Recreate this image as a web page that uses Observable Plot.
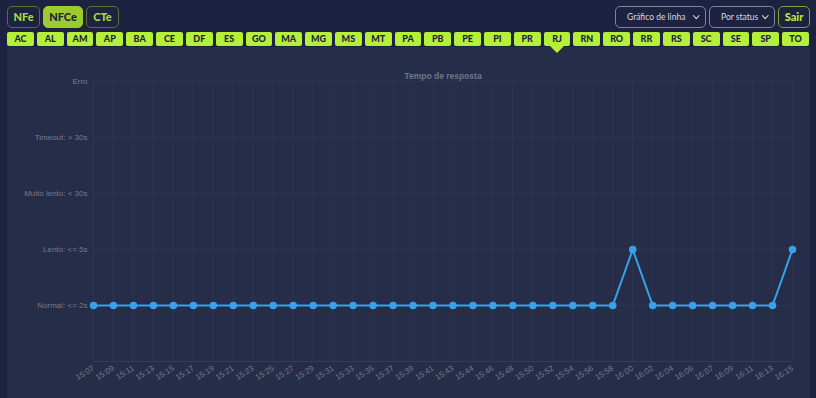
<!DOCTYPE html>
<html><head><meta charset="utf-8">
<script src="https://cdn.jsdelivr.net/npm/d3@7"></script>
<script src="https://cdn.jsdelivr.net/npm/@observablehq/plot@0.6"></script>
<style>
html,body{margin:0;padding:0;background:#1e2241;width:816px;height:398px;overflow:hidden;font-family:Lato,"Open Sans",sans-serif;}
#topbar{position:absolute;left:7px;top:6px;display:flex;gap:3px;}
.doc{height:20px;border:1px solid #5d7030;border-radius:5px;color:#a9d93c;font-weight:900;font-size:11px;line-height:20px;text-align:center;box-sizing:content-box;}
.doc.on{background:#9ccb2d;border-color:#9ccb2d;color:#1e2241;}
#right{position:absolute;left:615px;top:6px;display:flex;gap:3px;}
.sel{height:20px;border:1px solid #80859a;border-radius:5px;color:#d8dae2;font-size:8.5px;line-height:20px;padding:0 0 0 11px;position:relative;box-sizing:content-box;}
.sel span.ch{position:absolute;right:7px;top:6px;width:3.5px;height:3.5px;border-right:1.5px solid #e8e8ee;border-bottom:1.5px solid #e8e8ee;transform:rotate(45deg);}
.sair{height:20px;width:30px;text-align:center;border:1px solid #7da22e;border-radius:5px;color:#b6ea3c;font-weight:900;font-size:11px;line-height:20px;box-sizing:content-box;}
#states{position:absolute;left:7px;top:32px;width:802px;display:flex;gap:3px;z-index:2;}
.st{flex:1;height:14px;background:#b4ef3a;border-radius:2px;color:#1e2241;font-weight:900;font-size:9px;line-height:14px;text-align:center;position:relative;}
.st.on::after{content:"";position:absolute;left:50%;top:14px;margin-left:-7px;border-left:7px solid transparent;border-right:7px solid transparent;border-top:7px solid #b4ef3a;}
#panel{position:absolute;left:7px;top:47px;width:803px;height:351px;background:#262d48;z-index:1;}
</style></head>
<body>
<div id="topbar"></div>
<div id="right">
  <div class="sel" style="width:78px">Gráfico de linha<span class="ch"></span></div>
  <div class="sel" style="width:53px">Por status<span class="ch"></span></div>
  <div class="sair">Sair</div>
</div>
<div id="states"></div>
<div id="panel"></div>
<script>
const docTypes = ["NFe","NFCe","CTe"];
const activeDoc = "NFCe";
const states = ["AC","AL","AM","AP","BA","CE","DF","ES","GO","MA","MG","MS","MT","PA","PB","PE","PI","PR","RJ","RN","RO","RR","RS","SC","SE","SP","TO"];
const activeState = "RJ";
const chartTitle = "Tempo de resposta";
const levels = ["Erro","Timeout: > 30s","Muito lento: < 30s","Lento: <= 5s","Normal: <= 2s"];
const times = ["15:07","15:09","15:11","15:13","15:15","15:17","15:19","15:21","15:23","15:25","15:27","15:29","15:31","15:33","15:35","15:37","15:39","15:41","15:43","15:44","15:46","15:48","15:50","15:52","15:54","15:56","15:58","16:00","16:02","16:04","16:06","16:07","16:09","16:11","16:13","16:15"];
const N = "Normal: <= 2s", L = "Lento: <= 5s";
const statuses = [N,N,N,N,N,N,N,N,N,N,N,N,N,N,N,N,N,N,N,N,N,N,N,N,N,N,N,L,N,N,N,N,N,N,N,L];

const topbar = document.getElementById("topbar");
const docWidths = {NFe: 31, NFCe: 38, CTe: 31};
docTypes.forEach(d=>{const e=document.createElement("div");e.className="doc"+(d===activeDoc?" on":"");e.style.width=docWidths[d]+"px";e.textContent=d;topbar.appendChild(e);});
const stRow = document.getElementById("states");
states.forEach(s=>{const e=document.createElement("div");e.className="st"+(s===activeState?" on":"");e.textContent=s;stRow.appendChild(e);});

const data = times.map((t,i)=>({t, s: statuses[i]}));
const yDomain = [...levels, " "];
const grid = "rgba(255,255,255,0.035)";
const lbl = "#767c8f";
const chart = Plot.plot({
  width: 803, height: 351,
  marginTop: 34, marginBottom: 37, marginLeft: 86, marginRight: 18,
  style: {background: "transparent", fontFamily: "'Liberation Sans', Arial, sans-serif", fontSize: "8px", color: lbl},
  x: {type: "point", domain: times, padding: 0, label: null, axis: null},
  y: {type: "point", domain: yDomain, padding: 0, label: null},
  marks: [
    Plot.gridX(times, {stroke: grid, strokeOpacity: 1}),
    Plot.gridY(levels, {stroke: grid, strokeOpacity: 1}),
    Plot.ruleY([" "], {stroke: "rgba(255,255,255,0.07)"}),
    Plot.axisY(levels, {tickSize: 0, tickPadding: 6, fill: lbl, fontSize: 8, label: null}),
    Plot.text(times, {x: d=>d, frameAnchor: "bottom", dy: 6, dx: 0, rotate: -32, textAnchor: "end", lineAnchor: "middle", fill: lbl, fontSize: 8}),
    Plot.line(data, {x: "t", y: "s", stroke: "#36a2eb", strokeWidth: 2}),
    Plot.dot(data, {x: "t", y: "s", r: 3, fill: "#36a2eb", stroke: "#36a2eb"}),
    Plot.text([chartTitle], {text: d=>d, frameAnchor: "top", dy: -9, fill: "#6f7587", fontWeight: "bold", fontSize: 8.5})
  ]
});
document.getElementById("panel").appendChild(chart);
</script>
</body></html>
